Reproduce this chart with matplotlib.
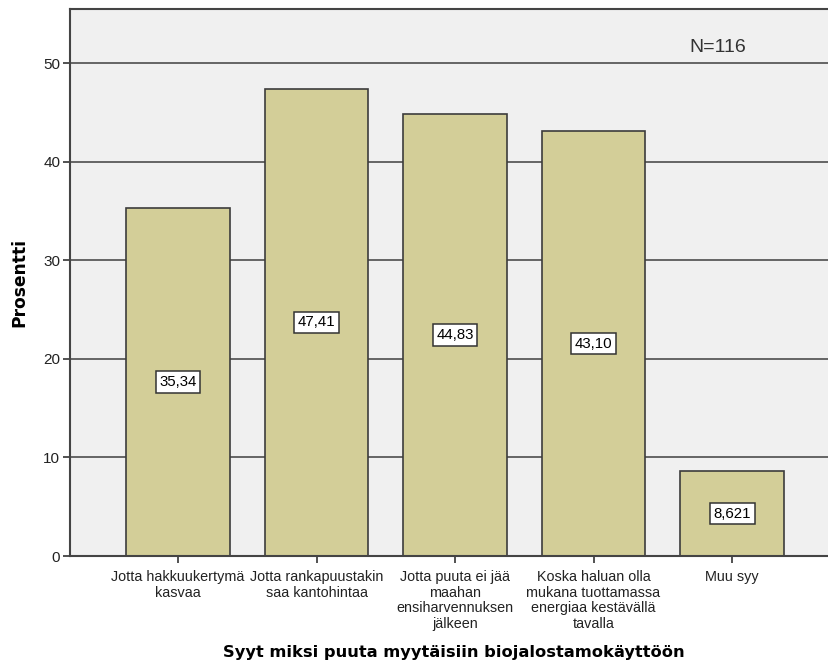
import matplotlib
matplotlib.use("Agg")
import matplotlib.pyplot as plt

categories = [
    "Jotta hakkuukertymä\nkasvaa",
    "Jotta rankapuustakin\nsaa kantohintaa",
    "Jotta puuta ei jää\nmaahan\nensiharvennuksen\njälkeen",
    "Koska haluan olla\nmukana tuottamassa\nenergiaa kestävällä\ntavalla",
    "Muu syy",
]
values = [35.34, 47.41, 44.83, 43.10, 8.621]
value_labels = ["35,34", "47,41", "44,83", "43,10", "8,621"]
yticks = [0, 10, 20, 30, 40, 50]
n_label = "N=116"
x_title = "Syyt miksi puuta myytäisiin biojalostamokäyttöön"
y_title = "Prosentti"

plt.rcParams["font.family"] = ["Liberation Sans", "DejaVu Sans"]

fig = plt.figure(figsize=(8.29, 6.64), dpi=100)
ax = fig.add_axes([70 / 829, 108 / 664, 759 / 829, 547 / 664])
ax.set_facecolor("#F0F0F0")

x = list(range(len(values)))
ax.set_xlim(-0.78, 4.70)
ax.set_ylim(0, 55.5)

for t in yticks[1:]:
    ax.axhline(t, color="#5a5a5a", lw=1.3, zorder=1)

ax.bar(x, values, width=0.745, color="#D3CE98", edgecolor="#3c3c3c",
       linewidth=1.2, zorder=2)

for xi, v, lab in zip(x, values, value_labels):
    ax.text(xi, v / 2, lab, ha="center", va="center", fontsize=10.8,
            color="black", zorder=3,
            bbox=dict(boxstyle="square,pad=0.25", fc="white",
                      ec="#333333", lw=1.1))

ax.text(0.853, 0.93, n_label, transform=ax.transAxes, ha="center",
        va="center", fontsize=14, color="#333333")

ax.set_xticks(x)
ax.set_xticklabels(categories, fontsize=10.4, linespacing=1.16,
                   color="#222222")
ax.set_yticks(yticks)
ax.set_yticklabels([str(t) for t in yticks], fontsize=11, color="#222222")
ax.tick_params(axis="both", direction="out", length=5, width=1.2,
               color="#333333")
ax.tick_params(axis="x", pad=5)
ax.tick_params(axis="y", pad=2)

for side in ["left", "bottom", "top"]:
    ax.spines[side].set_color("#444444")
    ax.spines[side].set_linewidth(1.5)
ax.spines["right"].set_visible(False)

ax.set_xlabel(x_title, fontsize=11.7, fontweight="bold",
              family=["DejaVu Sans"])
ax.xaxis.set_label_coords(0.506, -0.163)
ax.set_ylabel(y_title, fontsize=12.3, fontweight="bold",
              family=["DejaVu Sans"])
ax.yaxis.set_label_coords(-0.0553, 0.5)

fig.savefig("out.png", dpi=100, facecolor="white")
